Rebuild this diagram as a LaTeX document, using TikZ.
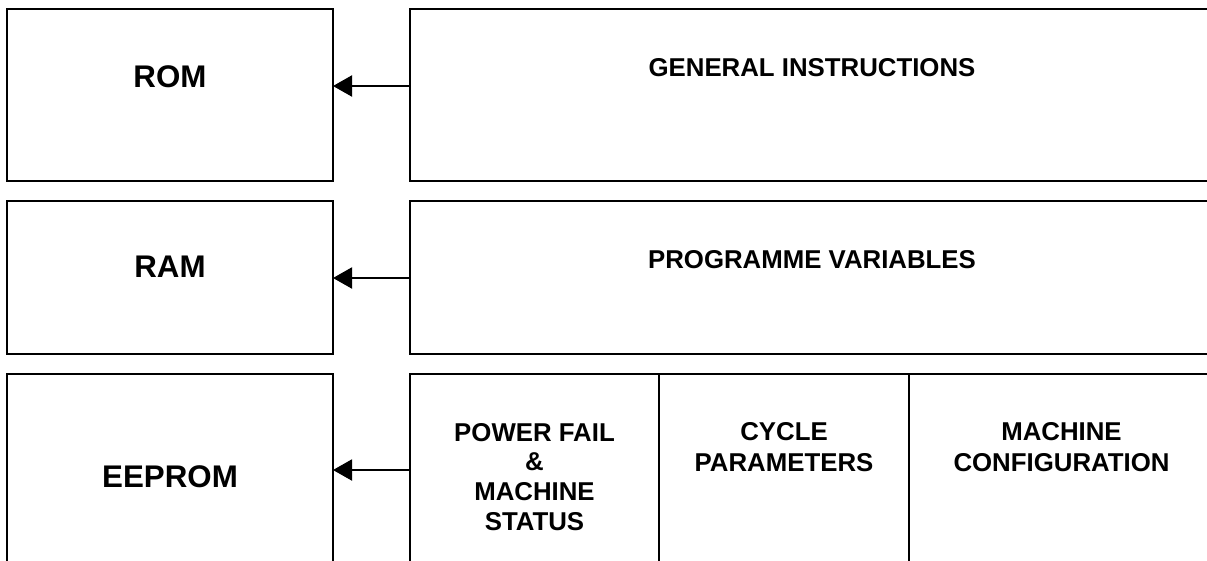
\documentclass[tikz,border=0pt]{standalone}
\usepackage{fontspec}
\setmainfont{Liberation Sans}
\usetikzlibrary{arrows.meta}
\begin{document}
\begin{tikzpicture}[x=1pt,y=-1pt,
  box/.style={draw=black,line width=2pt,inner sep=0pt,outer sep=0pt,rectangle},
  arr/.style={line width=2pt,-{Triangle[length=19pt,width=21pt]}},
  bigtxt/.style={inner sep=0pt,anchor=north,font=\fontsize{31.3}{37}\selectfont\bfseries},
  smalltxt/.style={inner sep=0pt,anchor=north,align=center,font=\fontsize{25.8}{31}\selectfont\bfseries}]
\useasboundingbox (0,0) rectangle (1207,560);
\clip (0,0) rectangle (1207,560);
% left boxes
\node[box,minimum width=326pt,minimum height=172pt] (rom) at (170,95) {};
\node[box,minimum width=326pt,minimum height=153pt] (ram) at (170,277.5) {};
\node[box,minimum width=326pt,minimum height=192pt] (eeprom) at (170,470) {};
% right boxes
\node[box,minimum width=804pt,minimum height=172pt] (gi) at (812,95) {};
\node[box,minimum width=804pt,minimum height=153pt] (pv) at (812,277.5) {};
\node[box,minimum width=249pt,minimum height=192pt] (pf) at (534.5,470) {};
\node[box,minimum width=250pt,minimum height=192pt] (cp) at (784,470) {};
\node[box,minimum width=305pt,minimum height=192pt] (mc) at (1061.5,470) {};
% texts
\node[bigtxt] (romt) at (170,65) {ROM};
\node[bigtxt] (ramt) at (170,256) {RAM};
\node[bigtxt] (eepromt) at (170,465) {EEPROM};
\node[smalltxt] (git) at (812,58) {GENERAL INSTRUCTIONS};
\node[smalltxt] (pvt) at (812,250) {PROGRAMME VARIABLES};
\node[smalltxt,font=\fontsize{25.8}{29.7}\selectfont\bfseries] (pft) at (534.5,423) {POWER FAIL\\\&\\MACHINE\\STATUS};
\node[smalltxt] (cpt) at (784,422) {CYCLE\\PARAMETERS};
\node[smalltxt] (mct) at (1061.5,422) {MACHINE\\CONFIGURATION};
% arrows
\draw[arr] ([yshift=9pt]gi.west) -- ([yshift=9pt]rom.east);
\draw[arr] ([yshift=-0.5pt]pv.west) -- ([yshift=-0.5pt]ram.east);
\draw[arr] (pf.west) -- (eeprom.east);
\end{tikzpicture}
\end{document}
